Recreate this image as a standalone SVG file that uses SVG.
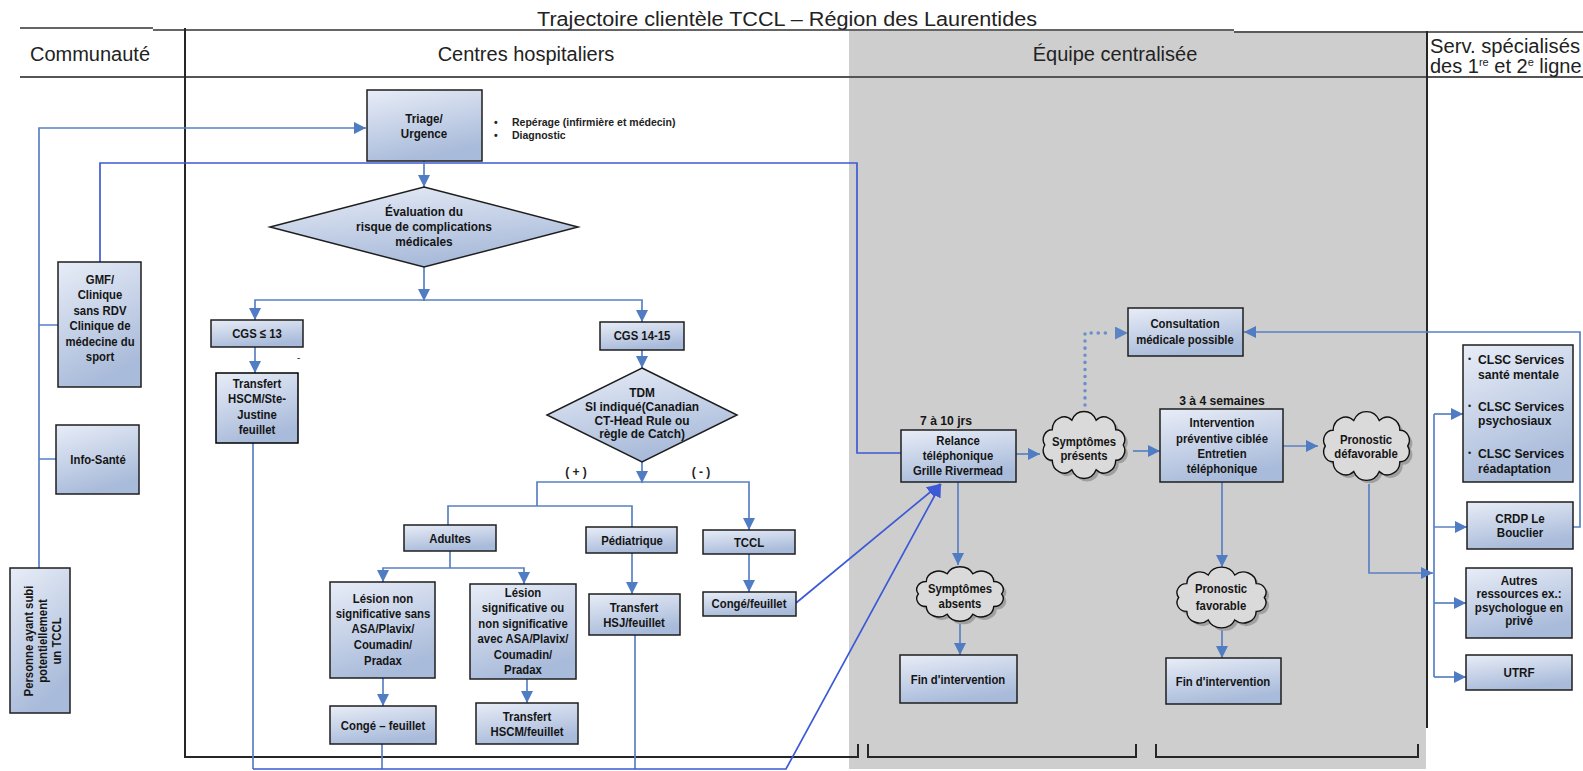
<svg xmlns="http://www.w3.org/2000/svg" xmlns:xlink="http://www.w3.org/1999/xlink" width="1583" height="771" viewBox="0 0 1583 771">
<defs>
<style>
.box{fill:url(#g);stroke:#1e1e1e;stroke-width:1.5}
.t{font-family:"Liberation Sans",Arial,sans-serif;font-weight:bold;font-size:13.5px;fill:#151515;text-anchor:middle}
.tl{font-family:"Liberation Sans",Arial,sans-serif;font-weight:bold;font-size:13.5px;fill:#151515;text-anchor:start}
.h{font-family:"Liberation Sans",Arial,sans-serif;font-size:20px;fill:#222}
.c{fill:none;stroke:#5a80c2;stroke-width:1.7}
.cb{fill:none;stroke:#3d5ad6;stroke-width:1.7}
.dot{fill:none;stroke:#6b8fcb;stroke-width:3.5;stroke-linecap:round;stroke-dasharray:0.1 7}
.k{fill:none;stroke:#262626;stroke-width:2}
.cl{fill:#dadada;stroke:#111;stroke-width:1.4}
.cls{fill:#a0a0a0}
</style>
<linearGradient id="g" x1="0" y1="0" x2="0.35" y2="1">
<stop offset="0" stop-color="#e8edf7"/>
<stop offset="1" stop-color="#a9bbda"/>
</linearGradient>
<marker id="ar" viewBox="0 0 10 10" refX="10" refY="5" markerWidth="12" markerHeight="12" markerUnits="userSpaceOnUse" orient="auto"><path d="M0,0 L10,5 L0,10 z" fill="#4f7cc2"/></marker>
<marker id="arb" viewBox="0 0 10 10" refX="10" refY="5" markerWidth="13" markerHeight="13" markerUnits="userSpaceOnUse" orient="auto"><path d="M0,0 L10,5 L0,10 z" fill="#3d5ad6"/></marker>
<marker id="ard" viewBox="0 0 10 10" refX="10" refY="5" markerWidth="13" markerHeight="13" markerUnits="userSpaceOnUse" orient="auto"><path d="M0,0 L10,5 L0,10 z" fill="#5b83c6"/></marker>
<symbol id="cloud" viewBox="0 0 100 70" preserveAspectRatio="none" overflow="visible">
<path vector-effect="non-scaling-stroke" d="M90,35 A9,9 0 0 1 82.4,49.1 A12,12 0 0 1 62.4,57.8 A13.6,13.6 0 0 1 37.6,57.8 A12,12 0 0 1 17.6,49.1 A9,9 0 0 1 10,35 A9,9 0 0 1 17.6,20.9 A12,12 0 0 1 37.6,12.2 A13.6,13.6 0 0 1 62.4,12.2 A12,12 0 0 1 82.4,20.9 A9,9 0 0 1 90,35 Z"/>
</symbol>
</defs>

<rect width="1583" height="771" fill="#ffffff"/>
<rect x="849" y="31" width="577" height="738" fill="#cecece"/>

<g id="frame">
<text class="h" x="787" y="26" text-anchor="middle" font-size="22" textLength="500" lengthAdjust="spacingAndGlyphs">Trajectoire clientèle TCCL – Région des Laurentides</text>
<path fill="none" stroke="#333" stroke-width="1.5" d="M20,28 H153 M153,30 H1234 M1234,32 H1583"/>
<path fill="none" stroke="#555" stroke-width="2" d="M20,77 H1583"/>
<path class="k" d="M185,28 V757 H858 V744 M868,744 V757 H1136 V744 M1156,744 V757 H1418 V744 M1427,31 V728"/>
<text class="h" x="90" y="61" text-anchor="middle">Communauté</text>
<text class="h" x="526" y="61" text-anchor="middle">Centres hospitaliers</text>
<text class="h" x="1115" y="61" text-anchor="middle">Équipe centralisée</text>
<text class="h" x="1430" y="53" font-size="19" textLength="150" lengthAdjust="spacingAndGlyphs">Serv. spécialisés</text>
<text class="h" x="1430" y="73" font-size="19">des 1<tspan font-size="11" dy="-7">re</tspan><tspan dy="7"> et 2</tspan><tspan font-size="11" dy="-7">e</tspan><tspan dy="7"> ligne</tspan></text>
</g>

<g id="connectors">
<path class="c" d="M39,568 V128 H366" marker-end="url(#ar)"/>
<path class="c" d="M39,325 H58 M39,459 H56"/>
<path class="cb" d="M100,262 V163 H857 V453 H901"/>
<path class="c" d="M424,161 V187" marker-end="url(#ar)"/>
<path class="c" d="M424,267 V301" marker-end="url(#ar)"/>
<path class="c" d="M424,300 H255 V320" marker-end="url(#ar)"/>
<path class="c" d="M424,300 H642 V322" marker-end="url(#ar)"/>
<path class="c" d="M255,347 V373" marker-end="url(#ar)"/>
<path class="c" d="M642,350 V368" marker-end="url(#ar)"/>
<path class="c" d="M642,462 V483" marker-end="url(#ar)"/>
<path class="c" d="M642,482 H537 V506 M448,525 V506 H632 V527"/>
<path class="c" d="M642,482 H749 V530" marker-end="url(#ar)"/>
<path class="c" d="M450,551 V568"/>
<path class="c" d="M450,568 H383 V582" marker-end="url(#ar)"/>
<path class="c" d="M450,568 H524 V584" marker-end="url(#ar)"/>
<path class="c" d="M383,678 V706" marker-end="url(#ar)"/>
<path class="c" d="M527,679 V703" marker-end="url(#ar)"/>
<path class="c" d="M632,553 V594" marker-end="url(#ar)"/>
<path class="c" d="M749,554 V592" marker-end="url(#ar)"/>
<path class="cb" d="M796,603 L940,484" marker-end="url(#arb)"/>
<path class="c" d="M253,443 V769 M382,744 V769 M635,635 V769"/>
<path class="cb" d="M253,769 H786 L941,484" marker-end="url(#arb)"/>
<path class="c" d="M1016,454 H1040" marker-end="url(#ar)"/>
<path class="dot" d="M1085,405 V333 H1110"/>
<path fill="none" stroke="none" d="M1110,333 H1128" marker-end="url(#ard)"/>
<path class="c" d="M1133,451 H1160" marker-end="url(#ar)"/>
<path class="c" d="M1283,446 H1318" marker-end="url(#ar)"/>
<path class="c" d="M958,482 V565" marker-end="url(#ar)"/>
<path class="c" d="M960,622 V655" marker-end="url(#ar)"/>
<path class="c" d="M1222,482 V567" marker-end="url(#ar)"/>
<path class="c" d="M1222,630 V658" marker-end="url(#ar)"/>
<path class="c" d="M1369,484 V573 H1433" marker-end="url(#ar)"/>
<path class="c" d="M1434,414 V677"/>
<path class="c" d="M1434,414 H1463" marker-end="url(#ar)"/>
<path class="c" d="M1434,527 H1467" marker-end="url(#ar)"/>
<path class="c" d="M1434,603 H1466" marker-end="url(#ar)"/>
<path class="c" d="M1434,677 H1466" marker-end="url(#ar)"/>
<path class="c" d="M1573,527 H1580 V332 H1244" marker-end="url(#ar)"/>
</g>

<g id="gmf">
<rect class="box" x="58" y="262" width="83" height="125"/>
<g transform="translate(100 0) scale(0.84 1)">
<text class="t" y="284">GMF/</text><text class="t" y="299.4">Clinique</text><text class="t" y="314.8">sans RDV</text><text class="t" y="330.2">Clinique de</text><text class="t" y="345.6">médecine du</text><text class="t" y="361">sport</text>
</g>
</g>
<g id="info-sante">
<rect class="box" x="56" y="425" width="83" height="69"/>
<g transform="translate(98 0) scale(0.84 1)"><text class="t" y="464">Info-Santé</text></g>
</g>
<g id="personne">
<rect class="box" x="10" y="568" width="60" height="145"/>
<g transform="translate(40 641) rotate(-90) scale(0.84 1)">
<text class="t" y="-7">Personne ayant subi</text><text class="t" y="7">potentiellement</text><text class="t" y="21">un TCCL</text>
</g>
</g>

<g id="triage">
<rect class="box" x="367" y="90" width="115" height="71"/>
<g transform="translate(424 0) scale(0.86 1)"><text class="t" y="123">Triage/</text><text class="t" y="138">Urgence</text></g>
<g font-family="Liberation Sans, Arial, sans-serif" font-weight="bold" font-size="10.5" fill="#222">
<text x="494" y="126">•</text><text x="512" y="126">Repérage (infirmière et médecin)</text>
<text x="494" y="139">•</text><text x="512" y="139">Diagnostic</text>
</g>
</g>
<g id="evaluation">
<polygon class="box" points="424,187 578,227 424,267 270,227"/>
<g transform="translate(424 0) scale(0.88 1)"><text class="t" y="216">Évaluation du</text><text class="t" y="231">risque de complications</text><text class="t" y="246">médicales</text></g>
</g>
<g id="cgs13">
<rect class="box" x="211" y="320" width="92" height="27"/>
<g transform="translate(257 0) scale(0.84 1)"><text class="t" y="338">CGS ≤ 13</text></g>
<text x="297" y="361" font-family="Liberation Sans, Arial, sans-serif" font-size="10" fill="#333">-</text>
</g>
<g id="transfert-ste-justine">
<rect class="box" x="216" y="373" width="82" height="70" stroke-width="2.6" style="stroke:#000"/>
<g transform="translate(257 0) scale(0.84 1)"><text class="t" y="388">Transfert</text><text class="t" y="403">HSCM/Ste-</text><text class="t" y="419">Justine</text><text class="t" y="434">feuillet</text></g>
</g>
<g id="cgs1415">
<rect class="box" x="600" y="322" width="84" height="28"/>
<g transform="translate(642 0) scale(0.84 1)"><text class="t" y="340">CGS 14-15</text></g>
</g>
<g id="tdm">
<polygon class="box" points="642,368 737,415 642,462 547,415"/>
<g transform="translate(642 0) scale(0.88 1)"><text class="t" y="397">TDM</text><text class="t" y="411">SI indiqué(Canadian</text><text class="t" y="425">CT-Head Rule ou</text><text class="t" y="438">règle de Catch)</text></g>
</g>
<g id="labels-plus-minus" font-family="Liberation Sans, Arial, sans-serif" font-weight="bold" font-size="12" fill="#222" text-anchor="middle">
<text x="576" y="476">( + )</text><text x="701" y="476">( - )</text>
</g>
<g id="adultes">
<rect class="box" x="404" y="525" width="92" height="26"/>
<g transform="translate(450 0) scale(0.84 1)"><text class="t" y="543">Adultes</text></g>
</g>
<g id="pediatrique">
<rect class="box" x="586" y="527" width="91" height="26"/>
<g transform="translate(632 0) scale(0.84 1)"><text class="t" y="545">Pédiatrique</text></g>
</g>
<g id="tccl">
<rect class="box" x="703" y="530" width="92" height="24"/>
<g transform="translate(749 0) scale(0.84 1)"><text class="t" y="547">TCCL</text></g>
</g>
<g id="lesion-non">
<rect class="box" x="330" y="582" width="105" height="96"/>
<g transform="translate(383 0) scale(0.84 1)"><text class="t" y="603">Lésion non</text><text class="t" y="618">significative sans</text><text class="t" y="633">ASA/Plavix/</text><text class="t" y="649">Coumadin/</text><text class="t" y="665">Pradax</text></g>
</g>
<g id="lesion-sig">
<rect class="box" x="470" y="584" width="106" height="95"/>
<g transform="translate(523 0) scale(0.84 1)"><text class="t" y="597">Lésion</text><text class="t" y="612.5">significative ou</text><text class="t" y="628">non significative</text><text class="t" y="643.5">avec ASA/Plavix/</text><text class="t" y="659">Coumadin/</text><text class="t" y="674.5">Pradax</text></g>
</g>
<g id="conge-feuillet-1">
<rect class="box" x="330" y="706" width="106" height="38"/>
<g transform="translate(383 0) scale(0.84 1)"><text class="t" y="730">Congé – feuillet</text></g>
</g>
<g id="transfert-hscm">
<rect class="box" x="476" y="703" width="102" height="41"/>
<g transform="translate(527 0) scale(0.84 1)"><text class="t" y="721">Transfert</text><text class="t" y="736">HSCM/feuillet</text></g>
</g>
<g id="transfert-hsj">
<rect class="box" x="589" y="594" width="91" height="41"/>
<g transform="translate(634 0) scale(0.84 1)"><text class="t" y="612">Transfert</text><text class="t" y="627">HSJ/feuillet</text></g>
</g>
<g id="conge-feuillet-2">
<rect class="box" x="703" y="592" width="93" height="24"/>
<g transform="translate(749 0) scale(0.84 1)"><text class="t" y="608">Congé/feuillet</text></g>
</g>

<g id="relance">
<g transform="translate(946 0) scale(0.9 1)"><text class="t" y="425">7 à 10 jrs</text></g>
<rect class="box" x="901" y="430" width="115" height="52"/>
<g transform="translate(958 0) scale(0.84 1)"><text class="t" y="445">Relance</text><text class="t" y="460">téléphonique</text><text class="t" y="475">Grille Rivermead</text></g>
</g>
<g id="symptomes-presents">
<use href="#cloud" class="cls" x="1038" y="410" width="98" height="76"/>
<use href="#cloud" class="cl" x="1035" y="407" width="98" height="76"/>
<g transform="translate(1084 0) scale(0.84 1)"><text class="t" y="446">Symptômes</text><text class="t" y="460">présents</text></g>
</g>
<g id="consultation">
<rect class="box" x="1128" y="308" width="115" height="48"/>
<g transform="translate(1185 0) scale(0.84 1)"><text class="t" y="328">Consultation</text><text class="t" y="344">médicale possible</text></g>
</g>
<g id="intervention">
<g transform="translate(1222 0) scale(0.9 1)"><text class="t" y="405">3 à 4 semaines</text></g>
<rect class="box" x="1160" y="409" width="123" height="73"/>
<g transform="translate(1222 0) scale(0.84 1)"><text class="t" y="427">Intervention</text><text class="t" y="443">préventive ciblée</text><text class="t" y="458">Entretien</text><text class="t" y="473">téléphonique</text></g>
</g>
<g id="pronostic-defavorable">
<use href="#cloud" class="cls" x="1318" y="410" width="103" height="78"/>
<use href="#cloud" class="cl" x="1315" y="407" width="103" height="78"/>
<g transform="translate(1366 0) scale(0.84 1)"><text class="t" y="444">Pronostic</text><text class="t" y="458">défavorable</text></g>
</g>
<g id="symptomes-absents">
<use href="#cloud" class="cls" x="911" y="566" width="104" height="62"/>
<use href="#cloud" class="cl" x="908" y="563" width="104" height="62"/>
<g transform="translate(960 0) scale(0.84 1)"><text class="t" y="593">Symptômes</text><text class="t" y="608">absents</text></g>
</g>
<g id="fin-1">
<rect class="box" x="900" y="655" width="117" height="48"/>
<g transform="translate(958 0) scale(0.84 1)"><text class="t" y="684">Fin d'intervention</text></g>
</g>
<g id="pronostic-favorable">
<use href="#cloud" class="cls" x="1171" y="566" width="107" height="69"/>
<use href="#cloud" class="cl" x="1168" y="563" width="107" height="69"/>
<g transform="translate(1221 0) scale(0.84 1)"><text class="t" y="593">Pronostic</text><text class="t" y="610">favorable</text></g>
</g>
<g id="fin-2">
<rect class="box" x="1166" y="658" width="115" height="46"/>
<g transform="translate(1223 0) scale(0.84 1)"><text class="t" y="686">Fin d'intervention</text></g>
</g>

<g id="clsc">
<rect class="box" x="1463" y="345" width="110" height="137"/>
<g font-family="Liberation Sans, Arial, sans-serif" font-size="9" fill="#222"><text x="1468" y="362">•</text><text x="1468" y="409">•</text><text x="1468" y="456">•</text></g>
<g transform="translate(1478 0) scale(0.9 1)"><text class="tl" y="364">CLSC Services</text><text class="tl" y="379">santé mentale</text><text class="tl" y="411">CLSC Services</text><text class="tl" y="425">psychosiaux</text><text class="tl" y="458">CLSC Services</text><text class="tl" y="473">réadaptation</text></g>
</g>
<g id="crdp">
<rect class="box" x="1467" y="502" width="106" height="47"/>
<g transform="translate(1520 0) scale(0.86 1)"><text class="t" y="523">CRDP Le</text><text class="t" y="537">Bouclier</text></g>
</g>
<g id="autres">
<rect class="box" x="1466" y="568" width="106" height="70"/>
<g transform="translate(1519 0) scale(0.86 1)"><text class="t" y="585">Autres</text><text class="t" y="598">ressources ex.:</text><text class="t" y="612">psychologue en</text><text class="t" y="625">privé</text></g>
</g>
<g id="utrf">
<rect class="box" x="1466" y="655" width="106" height="35"/>
<g transform="translate(1519 0) scale(0.86 1)"><text class="t" y="677">UTRF</text></g>
</g>
</svg>
